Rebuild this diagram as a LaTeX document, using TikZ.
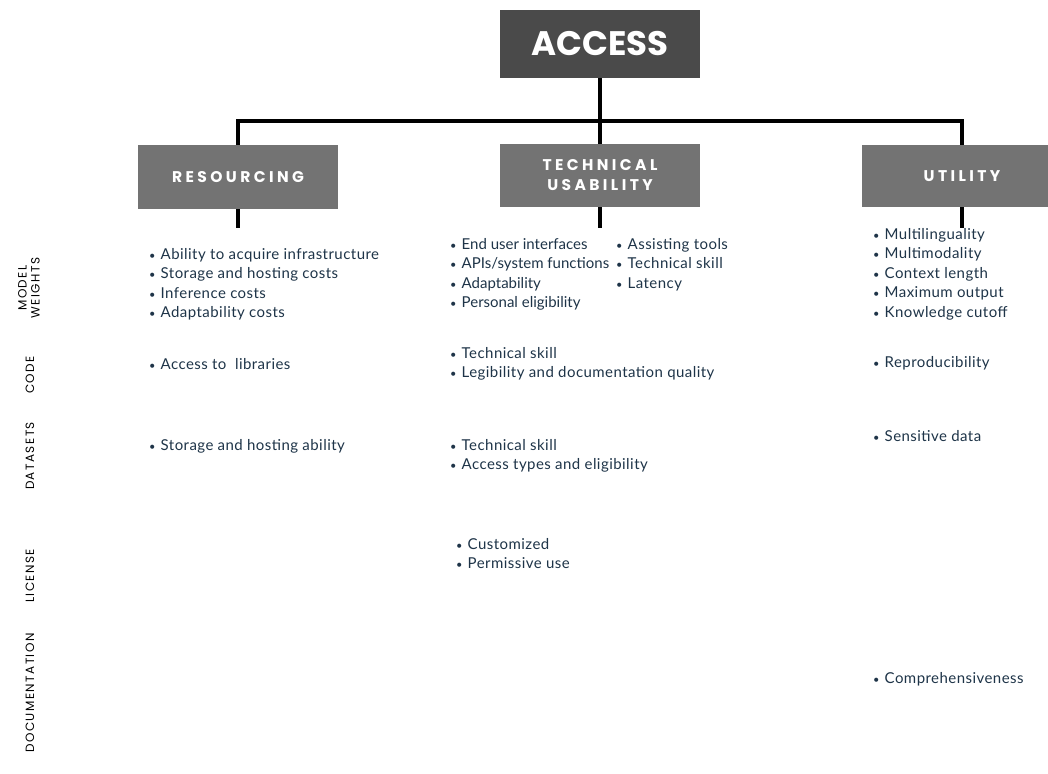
\documentclass[tikz,border=0pt]{standalone}
\usepackage{fontspec}
\setmainfont[LetterSpace=3]{Lato}
\newfontfamily\accfont{Poppins}
\newfontfamily\headfont[LetterSpace=22]{Poppins}
\newfontfamily\sidefont[LetterSpace=12]{Poppins}
\definecolor{boxdark}{HTML}{4A4A4A}
\definecolor{boxmid}{HTML}{737373}
\definecolor{ink}{HTML}{1E3448}
\newcommand{\bul}{\makebox[11.5pt][l]{\fontsize{11}{11}\selectfont\textbullet}}
\tikzset{
  bar/.style={line width=3.5pt},
  topbox/.style={fill=boxdark,text=white,minimum width=200pt,minimum height=68pt,font=\accfont\bfseries\fontsize{34}{34}\selectfont},
  catbox/.style={fill=boxmid,text=white,minimum width=200pt,align=center,font=\headfont\bfseries\fontsize{15.5}{20}\selectfont},
  side/.style={rotate=90,align=center,font=\sidefont\fontsize{12}{13}\selectfont},
  blist/.style={anchor=north west,inner sep=0pt,align=left,text=ink,font=\fontsize{15}{19.5}\selectfont}
}
\begin{document}
\begin{tikzpicture}[x=1pt,y=-1pt]
    \useasboundingbox (0,0) rectangle (1048,773);
    \node[topbox] (access) at (600,44) {ACCESS};
    \node[catbox,minimum height=64pt] (res) at (238,177) {RESOURCING};
    \node[catbox,minimum height=63pt] (tech) at (600,175.5) {TECHNICAL\\USABILITY};
    \node[catbox,minimum height=62pt] (util) at (962,176) {UTILITY};
    \coordinate (hub) at (600,121);
    \coordinate (resend) at (238,228);
    \coordinate (techend) at (600,228);
    \coordinate (utilend) at (962,228);
    \draw[bar] (access) -- (hub);
    \draw[bar] (res.north) |- (hub) -| (util.north);
    \draw[bar] (hub) -- (tech);
    \draw[bar] (res) -- (resend);
    \draw[bar] (tech) -- (techend);
    \draw[bar] (util) -- (utilend);
    \node[side] (weights) at (29,288) {MODEL\\WEIGHTS};
    \node[side] (code) at (30,375) {CODE};
    \node[side] (data) at (30,456) {DATASETS};
    \node[side] (lic) at (30,576) {LICENSE};
    \node[side] (docu) at (30,693) {DOCUMENTATION};
    \node[blist] (resw) at (149,248) {\bul Ability to acquire infrastructure\\\bul Storage and hosting costs\\\bul Inference costs\\\bul Adaptability costs};
    \node[blist] (resc) at (149,358) {\bul Access to\ \ libraries};
    \node[blist] (resd) at (149,439) {\bul Storage and hosting ability};
    \node[blist,font=\fontsize{15}{19.5}\selectfont\addfontfeature{LetterSpace=0}] (techw) at (450,238) {\bul End user interfaces\\\bul APIs/system functions\\\bul Adaptability\\\bul Personal eligibility};
    \node[blist] (techx) at (616,238) {\bul Assisting tools\\\bul Technical skill\\\bul Latency};
    \node[blist] (techc) at (450,347) {\bul Technical skill\\\bul Legibility and documentation quality};
    \node[blist] (techd) at (450,439) {\bul Technical skill\\\bul Access types and eligibility};
    \node[blist] (techl) at (456,538) {\bul Customized\\\bul Permissive use};
    \node[blist] (utilw) at (873,228) {\bul Multilinguality\\\bul Multimodality\\\bul Context length\\\bul Maximum output\\\bul Knowledge cutoff};
    \node[blist] (utilc) at (873,356) {\bul Reproducibility};
    \node[blist] (utild) at (873,430) {\bul Sensitive data};
    \node[blist] (utildoc) at (873,672) {\bul Comprehensiveness};
\end{tikzpicture}
\end{document}
